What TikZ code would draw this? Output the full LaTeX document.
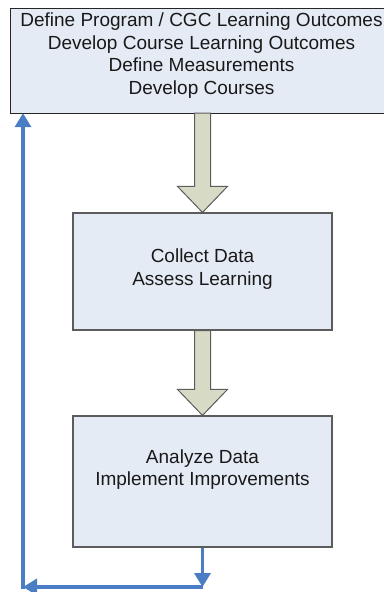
\documentclass[tikz,border=0pt]{standalone}
\usepackage{fontspec}
\setmainfont{Liberation Sans}
\usetikzlibrary{arrows.meta, positioning, calc}

\definecolor{boxfill}{HTML}{E5EBF5}
\definecolor{boxline}{HTML}{5C5C5C}
\definecolor{stemfill}{HTML}{D7DAC5}
\definecolor{loopblue}{HTML}{4A7DC4}

\tikzset{
  stage/.style={draw=boxline, fill=boxfill, line width=1.2pt, inner sep=0pt},
  stagetext/.style={align=center, font=\fontsize{19}{22.7}\selectfont, text=black!90},
  flowarrow/.style={draw=boxline, fill=stemfill, line width=1pt, line join=miter},
  feedback/.style={draw=loopblue, line width=3.6pt, -{Triangle[width=16pt,length=14pt]}}
}

\begin{document}
\begin{tikzpicture}[x=1pt, y=-1pt]
\useasboundingbox (0,0) rectangle (384,592);

% --- Planning box (open to the right edge) ---
\node[fill=boxfill, inner sep=0pt, minimum width=373, minimum height=104] (define) at (197.5,61) {};
\draw[black!85, line width=1.2pt] (define.north east) -- (define.north west)
  -- (define.south west) -- (define.south east);
\node[stagetext, yshift=5.5] (define-text) at (define.center -| 201.5,0)
  {Define Program / CGC Learning Outcomes\\ Develop Course Learning Outcomes\\ Define Measurements\\ Develop Courses};

% --- Assessment box ---
\node[stage, minimum width=259, minimum height=117] (collect) at (202.5,271.5) {};
\node[stagetext, yshift=2.5] (collect-text) at (collect.center) {Collect Data\\ Assess Learning};

% --- Improvement box ---
\node[stage, minimum width=259, minimum height=131] (analyze) at (202.5,481.5) {};
\node[stagetext, yshift=12] (analyze-text) at (analyze.center) {Analyze Data\\ Implement Improvements};

% --- Block arrows between the stages ---
\foreach \a/\b in {define/collect, collect/analyze}
  \draw[flowarrow] ($(\b.north |- \a.south)+(-8,0)$) -- ($(\b.north)+(-8,-26)$)
    -- ($(\b.north)+(-25,-26)$) -- (\b.north) -- ($(\b.north)+(25,-26)$)
    -- ($(\b.north)+(8,-26)$) -- ($(\b.north |- \a.south)+(8,0)$) -- cycle;

% --- Feedback loop back to the top ---
\coordinate (turn) at (analyze.south |- 0,587);
\coordinate (corner) at (23,587);
\draw[feedback] (analyze.south) -- (turn);
\draw[feedback] (turn) -- (corner);
\draw[feedback] ([yshift=-1.8pt]corner) -- (corner |- define.south);

\end{tikzpicture}
\end{document}
